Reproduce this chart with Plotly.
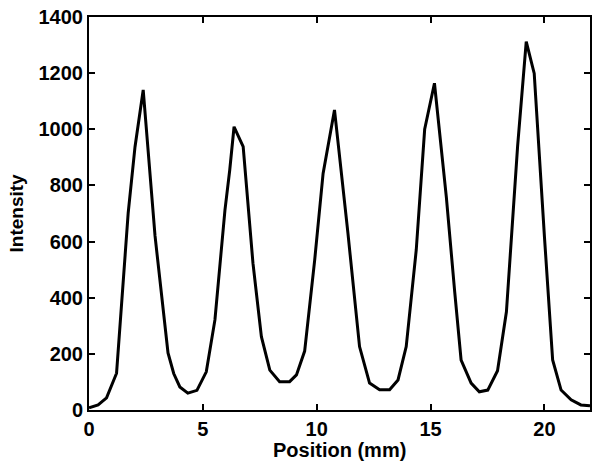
import plotly.graph_objects as go

position_mm = [0.0, 0.4, 0.77, 1.21, 1.72, 2.02, 2.38, 2.9, 3.47, 3.72, 3.99, 4.34, 4.74,
               5.15, 5.53, 5.97, 6.18, 6.37, 6.77, 7.2, 7.57, 7.94, 8.37, 8.81, 9.11,
               9.47, 9.91, 10.06, 10.28, 10.78, 11.37, 11.88, 12.32, 12.76, 13.2, 13.57,
               13.93, 14.37, 14.74, 15.17, 15.69, 16.06, 16.34, 16.78, 17.14, 17.51,
               17.94, 18.33, 18.82, 19.2, 19.55, 20.0, 20.36, 20.73, 21.17, 21.6, 22.0]
intensity = [8, 18, 43, 131, 701, 937, 1140, 620, 203, 130, 82, 60, 70,
             136, 321, 712, 855, 1009, 938, 523, 261, 142, 101, 101, 125,
             210, 534, 653, 843, 1069, 630, 226, 96, 72, 72, 107,
             226, 570, 1000, 1164, 760, 420, 178, 96, 65, 71,
             140, 350, 938, 1312, 1199, 617, 178, 71, 36, 18, 15]

x_ticks = [0, 5, 10, 15, 20]
y_ticks = [0, 200, 400, 600, 800, 1000, 1200, 1400]

fig = go.Figure()
fig.add_trace(go.Scatter(x=position_mm, y=intensity, mode="lines",
                         line=dict(color="black", width=3), showlegend=False))

fam = "Liberation Sans, Arial, sans-serif"
font = dict(family=fam, size=20, color="black", weight="bold")
axis_common = dict(showgrid=False, zeroline=False, showline=True, linecolor="black",
                   linewidth=2, mirror="ticks", ticks="inside", ticklen=6, tickwidth=2,
                   tickcolor="black", tickfont=font, automargin=False,
                   ticklabeloverflow="allow")

fig.update_layout(
    width=602, height=473,
    margin=dict(l=89, r=12, t=17, b=63),
    paper_bgcolor="white", plot_bgcolor="white",
    xaxis=dict(range=[0, 22], tickvals=x_ticks, **axis_common),
    yaxis=dict(range=[0, 1400], tickvals=y_ticks, **axis_common),
    annotations=[
        dict(text="Position (mm)", xref="paper", yref="paper", x=0.5, y=0,
             xanchor="center", yanchor="middle", yshift=-40, showarrow=False,
             font=font),
        dict(text="Intensity", xref="paper", yref="paper", x=0, y=0.5,
             xanchor="center", yanchor="middle", xshift=-73, textangle=-90,
             showarrow=False, font=dict(family=fam, size=19, color="black", weight="bold")),
    ],
)

fig.write_html("out.html", config={"displayModeBar": False},
               post_script="document.body.style.margin='0';document.body.style.padding='0';")
